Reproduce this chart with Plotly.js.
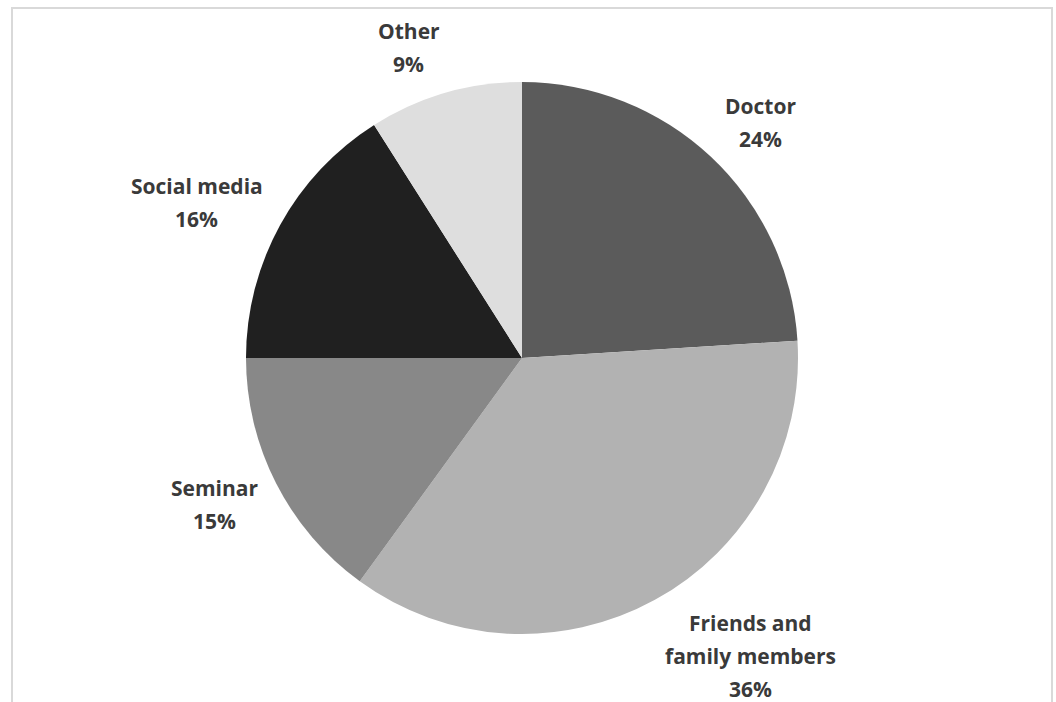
<!DOCTYPE html>
<html>
<head>
<meta charset="utf-8">
<script src="https://cdn.plot.ly/plotly-3.0.1.min.js"></script>
<style>html,body{margin:0;padding:0;background:#fff}#chart{width:1056px;height:702px}</style>
</head>
<body>
<div id="chart"></div>
<script>
const categories = ["Doctor", "Friends and family members", "Seminar", "Social media", "Other"];
const labelLines = [["Doctor"], ["Friends and", "family members"], ["Seminar"], ["Social media"], ["Other"]];
const values = [24, 36, 15, 16, 9];
const colors = ["#5b5b5b", "#b2b2b2", "#888888", "#202020", "#dedede"];

const W = 1056, H = 702;
const cx = 522, cy = 358, R = 276;
const fontFamily = "'Open Sans', Lato, sans-serif";
const fontSize = 21;
const lineGap = 33;
const textHeight = 22;
const labelGap = 20;

const trace = {
  type: "pie",
  labels: categories,
  values: values,
  sort: false,
  direction: "clockwise",
  rotation: 0,
  marker: {colors: colors, line: {width: 0}},
  textinfo: "none",
  hoverinfo: "label+percent",
  showlegend: false,
  domain: {x: [(cx - R) / W, (cx + R) / W], y: [1 - (cy + R) / H, 1 - (cy - R) / H]}
};

const ctx = document.createElement("canvas").getContext("2d");
ctx.font = "bold " + fontSize + "px 'Open Sans'";

const total = values.reduce((a, b) => a + b, 0);
const annotations = [];
let cum = 0;
values.forEach((v, i) => {
  const mid = (cum + v / 2) / total * 2 * Math.PI;
  cum += v;
  const dx = Math.sin(mid), dy = -Math.cos(mid);
  const lines = labelLines[i].concat([Math.round(v / total * 100) + "%"]);
  const w = Math.max(...lines.map(s => ctx.measureText(s).width));
  const h = (lines.length - 1) * lineGap + textHeight;
  const ax = cx + dx * (R + labelGap), ay = cy + dy * (R + labelGap);
  const px = ax + Math.sign(dx) * w / 2;
  const py = ay + dy * h / 2;
  lines.forEach((s, k) => {
    const ly = py + (k - (lines.length - 1) / 2) * lineGap;
    annotations.push({
      xref: "paper", yref: "paper",
      x: px / W, y: 1 - ly / H,
      xanchor: "center", yanchor: "middle",
      text: s, showarrow: false,
      font: {family: fontFamily, size: fontSize, color: "#3a3a3a", weight: "bold"}
    });
  });
});

const layout = {
  width: W, height: H,
  margin: {l: 0, r: 0, t: 0, b: 0},
  paper_bgcolor: "#ffffff",
  annotations: annotations,
  shapes: [{
    type: "rect", xref: "paper", yref: "paper",
    x0: 12 / W, x1: 1052 / W, y0: -0.05, y1: 1 - 8 / H,
    line: {color: "#d9d9d9", width: 2}
  }]
};

Plotly.newPlot("chart", [trace], layout, {displayModeBar: false, staticPlot: true});
</script>
</body>
</html>
